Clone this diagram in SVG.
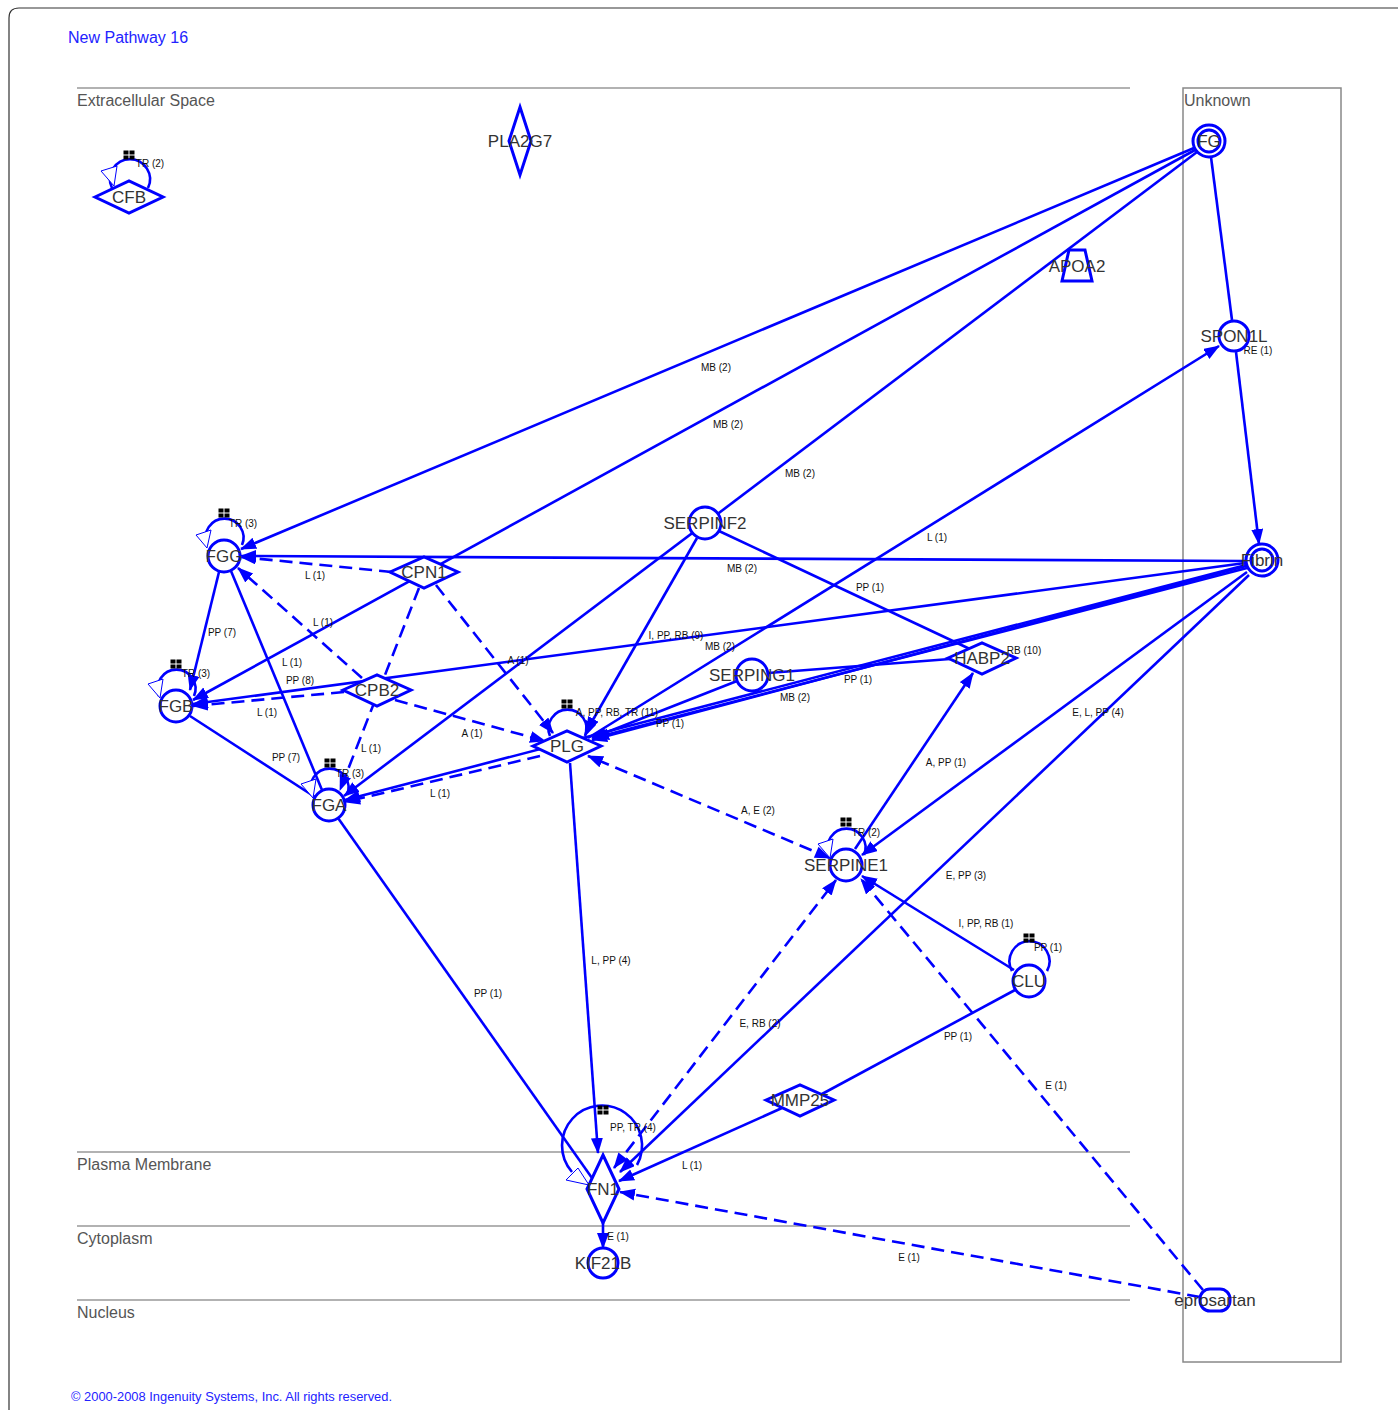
<svg xmlns="http://www.w3.org/2000/svg" width="1398" height="1410" viewBox="0 0 1398 1410">
<defs>
<style>
.frame{fill:none;stroke:#333;stroke-width:1.2}
.comp{stroke:#666;stroke-width:1.2}
.ctext{font-family:"Liberation Sans",Arial,sans-serif;font-size:16px;fill:#555}
.title{font-family:"Liberation Sans",Arial,sans-serif;font-size:16px;fill:#2222ff}
.copy{font-family:"Liberation Sans",Arial,sans-serif;font-size:12px;fill:#2222ff}
.shape{fill:#fff;stroke:#0000ff;stroke-width:3}
.nl{font-family:"Liberation Sans",Arial,sans-serif;font-size:17px;fill:#333;text-anchor:middle}
.e{fill:none;stroke:#0000ff;stroke-width:2.6}
.d{fill:none;stroke:#0000ff;stroke-width:2.6;stroke-dasharray:13,7}
.el{font-family:"Liberation Sans",Arial,sans-serif;font-size:10px;fill:#111;text-anchor:middle}
.loop{fill:none;stroke:#0000ff;stroke-width:2.6}
.tri{fill:#fff;stroke:#0000ff;stroke-width:1}
.hm{fill:#000}
</style>
<marker id="a" markerUnits="userSpaceOnUse" markerWidth="18" markerHeight="14" refX="15" refY="6" orient="auto">
<path d="M0,0 L16,6 L0,12 z" fill="#0000ff"/>
</marker>
<marker id="as" markerUnits="userSpaceOnUse" markerWidth="18" markerHeight="14" refX="1" refY="6" orient="auto">
<path d="M16,0 L0,6 L16,12 z" fill="#0000ff"/>
</marker>
<g id="hmark"><rect class="hm" x="-5.5" y="-4.5" width="5" height="4"/><rect class="hm" x="0.5" y="-4.5" width="5" height="4"/><rect class="hm" x="-5.5" y="0.5" width="5" height="4"/><rect class="hm" x="0.5" y="0.5" width="5" height="4"/></g>
</defs>
<rect width="1398" height="1410" fill="#fff"/>
<path class="frame" d="M9,1410 L9,18 Q9,8 19,8 L1398,8"/>
<text class="title" x="68" y="43">New Pathway 16</text>
<g id="compartments">
<line class="comp" x1="77" y1="88" x2="1130" y2="88"/>
<text class="ctext" x="77" y="106">Extracellular Space</text>
<line class="comp" x1="77" y1="1152" x2="1130" y2="1152"/>
<text class="ctext" x="77" y="1170">Plasma Membrane</text>
<line class="comp" x1="77" y1="1226" x2="1130" y2="1226"/>
<text class="ctext" x="77" y="1244">Cytoplasm</text>
<line class="comp" x1="77" y1="1300" x2="1130" y2="1300"/>
<text class="ctext" x="77" y="1318">Nucleus</text>
<rect x="1183" y="88" width="158" height="1274" fill="none" stroke="#888" stroke-width="1.5"/>
<text class="ctext" x="1184" y="106">Unknown</text>
</g>
<text class="copy" x="71" y="1401" textLength="321" lengthAdjust="spacingAndGlyphs">© 2000-2008 Ingenuity Systems, Inc. All rights reserved.</text>

<g id="connectors">
<line class="e" x1="1194" y1="148" x2="241" y2="549" marker-end="url(#a)"/>
<line class="e" x1="1195" y1="150" x2="193" y2="700" marker-end="url(#a)"/>
<line class="e" x1="1197" y1="152" x2="344" y2="796" marker-end="url(#a)"/>
<line class="e" x1="1211" y1="157" x2="1232" y2="320"/>
<line class="e" x1="1236" y1="352" x2="1259" y2="544" marker-end="url(#a)"/>
<line class="e" x1="588" y1="738" x2="1219" y2="346" marker-end="url(#a)"/>
<line class="e" x1="1245" y1="561" x2="241" y2="556" marker-end="url(#a)"/>
<line class="e" x1="1245" y1="563" x2="193" y2="704" marker-end="url(#a)"/>
<line class="e" x1="1246" y1="565" x2="345" y2="800" marker-end="url(#a)"/>
<line class="e" x1="1246" y1="566" x2="592" y2="740" marker-end="url(#a)"/>
<line class="e" x1="1247" y1="568" x2="594" y2="738" marker-end="url(#a)"/>
<line class="e" x1="737" y1="681" x2="592" y2="738" marker-end="url(#a)"/>
<line class="e" x1="768" y1="673" x2="950" y2="659"/>
<line class="e" x1="719" y1="531" x2="972" y2="650"/>
<line class="e" x1="697" y1="538" x2="586" y2="732" marker-end="url(#a)"/>
<line class="d" x1="392" y1="572" x2="241" y2="557" marker-end="url(#a)"/>
<line class="d" x1="436" y1="585" x2="553" y2="733" marker-end="url(#a)"/>
<line class="d" x1="419" y1="588" x2="340" y2="790" marker-end="url(#a)"/>
<line class="d" x1="362" y1="678" x2="238" y2="568" marker-end="url(#a)"/>
<line class="d" x1="344" y1="692" x2="193" y2="706" marker-end="url(#a)"/>
<line class="d" x1="395" y1="700" x2="545" y2="741" marker-end="url(#a)"/>
<line class="d" x1="540" y1="756" x2="345" y2="802" marker-end="url(#a)"/>
<line class="e" x1="219" y1="572" x2="190" y2="690" marker-end="url(#a)"/>
<line class="e" x1="231" y1="571" x2="322" y2="790"/>
<line class="e" x1="190" y1="716" x2="315" y2="797"/>
<line class="e" x1="338" y1="818" x2="592" y2="1178"/>
<line class="e" x1="570" y1="763" x2="598" y2="1153" marker-end="url(#a)"/>
<line class="e" x1="855" y1="849" x2="973" y2="673" marker-end="url(#a)"/>
<line class="e" x1="1247" y1="572" x2="862" y2="855" marker-end="url(#a)"/>
<line class="e" x1="1249" y1="575" x2="620" y2="1172" marker-end="url(#a)"/>
<line class="e" x1="1014" y1="970" x2="862" y2="876" marker-end="url(#a)"/>
<line class="e" x1="1015" y1="990" x2="822" y2="1094"/>
<line class="e" x1="782" y1="1108" x2="619" y2="1181" marker-end="url(#a)"/>
<line class="d" x1="614" y1="1168" x2="836" y2="880" marker-start="url(#as)" marker-end="url(#a)"/>
<line class="d" x1="830" y1="858" x2="588" y2="756" marker-start="url(#as)" marker-end="url(#a)"/>
<line class="d" x1="1203" y1="1290" x2="861" y2="879" marker-end="url(#a)"/>
<line class="d" x1="1200" y1="1297" x2="620" y2="1192" marker-end="url(#a)"/>
<line class="e" x1="603" y1="1223" x2="603" y2="1248" marker-end="url(#a)"/>
<!-- self loops -->
<path class="loop" d="M112,188 A20,20 0 1,1 148,188"/>
<path class="loop" d="M207,545 A19,19 0 1,1 242,545"/>
<path class="loop" d="M159,696 A19,19 0 1,1 194,696"/>
<path class="loop" d="M312,795 A19,19 0 1,1 347,795"/>
<path class="loop" d="M550,736 A19,19 0 1,1 585,736" marker-end="url(#a)"/>
<path class="loop" d="M829,855 A19,19 0 1,1 864,855"/>
<path class="loop" d="M1012,971 A20,20 0 1,1 1047,971"/>
<path class="loop" d="M572,1172 A40,40 0 1,1 637,1165"/>
<polygon class="tri" points="101,171 117,166 114,186"/>
<polygon class="tri" points="196,535 211,530 207,548"/>
<polygon class="tri" points="148,684 163,679 160,698"/>
<polygon class="tri" points="301,784 316,779 313,798"/>
<polygon class="tri" points="818,844 833,839 830,858"/>
<polygon class="tri" points="566,1180 578,1168 589,1185"/>
<use href="#hmark" x="129" y="155"/>
<use href="#hmark" x="224" y="513"/>
<use href="#hmark" x="176" y="664"/>
<use href="#hmark" x="330" y="763"/>
<use href="#hmark" x="567" y="704"/>
<use href="#hmark" x="846" y="822"/>
<use href="#hmark" x="1029" y="938"/>
<use href="#hmark" x="603" y="1110"/>
<!-- labels -->
<text class="el" x="150" y="167">TR (2)</text>
<text class="el" x="716" y="371">MB (2)</text>
<text class="el" x="728" y="428">MB (2)</text>
<text class="el" x="800" y="477">MB (2)</text>
<text class="el" x="1258" y="354">RE (1)</text>
<text class="el" x="937" y="541">L (1)</text>
<text class="el" x="243" y="527">TR (3)</text>
<text class="el" x="315" y="579">L (1)</text>
<text class="el" x="742" y="572">MB (2)</text>
<text class="el" x="870" y="591">PP (1)</text>
<text class="el" x="222" y="636">PP (7)</text>
<text class="el" x="323" y="626">L (1)</text>
<text class="el" x="676" y="639">I, PP, RB (9)</text>
<text class="el" x="720" y="650">MB (2)</text>
<text class="el" x="1024" y="654">RB (10)</text>
<text class="el" x="292" y="666">L (1)</text>
<text class="el" x="518" y="664">A (1)</text>
<text class="el" x="196" y="677">TR (3)</text>
<text class="el" x="300" y="684">PP (8)</text>
<text class="el" x="858" y="683">PP (1)</text>
<text class="el" x="795" y="701">MB (2)</text>
<text class="el" x="267" y="716">L (1)</text>
<text class="el" x="617" y="716">A, PP, RB, TR (11)</text>
<text class="el" x="670" y="727">PP (1)</text>
<text class="el" x="472" y="737">A (1)</text>
<text class="el" x="371" y="752">L (1)</text>
<text class="el" x="286" y="761">PP (7)</text>
<text class="el" x="946" y="766">A, PP (1)</text>
<text class="el" x="350" y="777">TR (3)</text>
<text class="el" x="440" y="797">L (1)</text>
<text class="el" x="1098" y="716">E, L, PP (4)</text>
<text class="el" x="758" y="814">A, E (2)</text>
<text class="el" x="866" y="836">TR (2)</text>
<text class="el" x="966" y="879">E, PP (3)</text>
<text class="el" x="986" y="927">I, PP, RB (1)</text>
<text class="el" x="1048" y="951">PP (1)</text>
<text class="el" x="611" y="964">L, PP (4)</text>
<text class="el" x="488" y="997">PP (1)</text>
<text class="el" x="760" y="1027">E, RB (2)</text>
<text class="el" x="958" y="1040">PP (1)</text>
<text class="el" x="1056" y="1089">E (1)</text>
<text class="el" x="633" y="1131">PP, TR (4)</text>
<text class="el" x="692" y="1169">L (1)</text>
<text class="el" x="618" y="1240">E (1)</text>
<text class="el" x="909" y="1261">E (1)</text>
</g>

<g id="node-CFB"><polygon class="shape" points="95,197 129,181 163,197 129,213"/><text class="nl" x="129" y="203">CFB</text></g>
<g id="node-PLA2G7"><polygon class="shape" points="520,107 531,141 520,175 509,141"/><text class="nl" x="520" y="147">PLA2G7</text></g>
<g id="node-APOA2"><polygon class="shape" points="1069,250 1085,250 1092,281 1062,281"/><text class="nl" x="1077" y="272">APOA2</text></g>
<g id="node-FG"><circle class="shape" cx="1209" cy="141" r="16"/><circle class="shape" cx="1209" cy="141" r="11" stroke-width="2"/><text class="nl" x="1209" y="147">FG</text></g>
<g id="node-SPON1L"><circle class="shape" cx="1234" cy="336" r="15"/><text class="nl" x="1234" y="342">SPON1L</text></g>
<g id="node-Fibrin"><circle class="shape" cx="1262" cy="560" r="16"/><circle class="shape" cx="1262" cy="560" r="11" stroke-width="2"/><text class="nl" x="1262" y="566">Fibrin</text></g>
<g id="node-FGG"><circle class="shape" cx="224" cy="556" r="16"/><text class="nl" x="224" y="562">FGG</text></g>
<g id="node-FGB"><circle class="shape" cx="176" cy="706" r="16"/><text class="nl" x="176" y="712">FGB</text></g>
<g id="node-FGA"><circle class="shape" cx="329" cy="805" r="16"/><text class="nl" x="329" y="811">FGA</text></g>
<g id="node-CPN1"><polygon class="shape" points="390,572 424,557 458,572 424,588"/><text class="nl" x="424" y="578">CPN1</text></g>
<g id="node-CPB2"><polygon class="shape" points="343,690 377,675 411,690 377,706"/><text class="nl" x="377" y="696">CPB2</text></g>
<g id="node-PLG"><polygon class="shape" points="533,746 567,731 601,746 567,762"/><text class="nl" x="567" y="752">PLG</text></g>
<g id="node-SERPINF2"><circle class="shape" cx="705" cy="523" r="16"/><text class="nl" x="705" y="529">SERPINF2</text></g>
<g id="node-SERPING1"><circle class="shape" cx="752" cy="675" r="16"/><text class="nl" x="752" y="681">SERPING1</text></g>
<g id="node-HABP2"><polygon class="shape" points="948,658 982,643 1016,658 982,674"/><text class="nl" x="982" y="664">HABP2</text></g>
<g id="node-SERPINE1"><circle class="shape" cx="846" cy="865" r="16"/><text class="nl" x="846" y="871">SERPINE1</text></g>
<g id="node-CLU"><circle class="shape" cx="1029" cy="981" r="16"/><text class="nl" x="1029" y="987">CLU</text></g>
<g id="node-MMP25"><polygon class="shape" points="766,1100 800,1085 834,1100 800,1116"/><text class="nl" x="800" y="1106">MMP25</text></g>
<g id="node-FN1"><polygon class="shape" points="603,1155 619,1189 603,1223 587,1189"/><text class="nl" x="603" y="1195">FN1</text></g>
<g id="node-KIF21B"><circle class="shape" cx="603" cy="1263" r="15"/><text class="nl" x="603" y="1269">KIF21B</text></g>
<g id="node-eprosartan"><rect class="shape" x="1200" y="1289" width="30" height="22" rx="10"/><text class="nl" x="1215" y="1306">eprosartan</text></g>
</svg>
